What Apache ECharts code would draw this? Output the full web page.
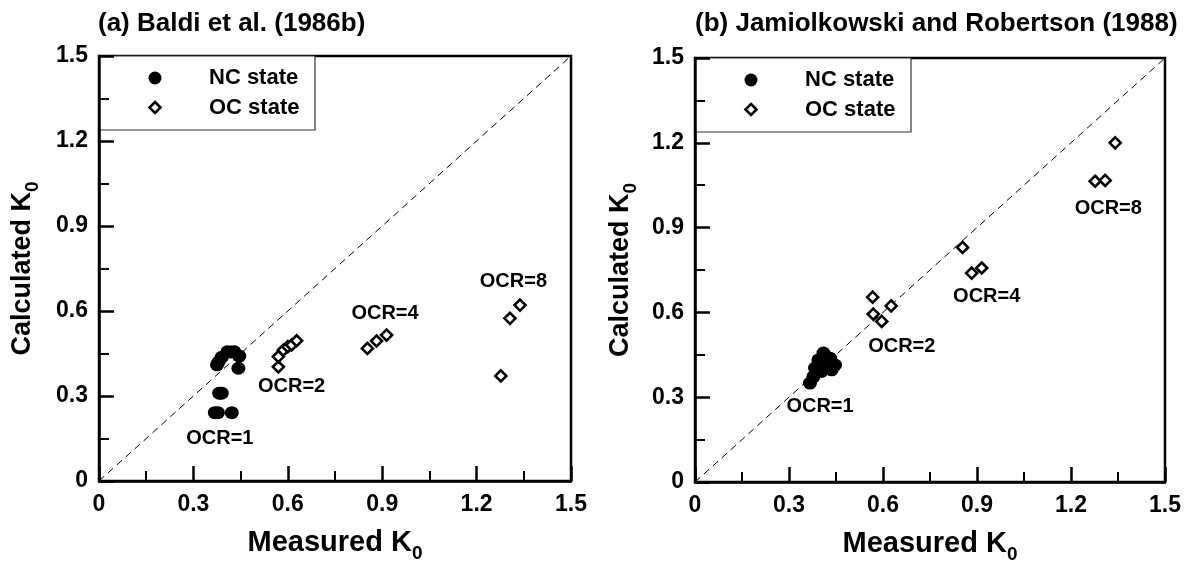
<!DOCTYPE html>
<html>
<head>
<meta charset="utf-8">
<script src="https://cdn.jsdelivr.net/npm/echarts@6/dist/echarts.min.js"></script>
<style>
  html, body { margin: 0; padding: 0; background: #fff; }
  #chart { width: 1192px; height: 563px; }
</style>
</head>
<body>
<div id="chart"></div>
<script>
// ---- data: [measured K0, calculated K0] ----
const AXIS_MIN = 0;
const AXIS_MAX = 1.5;
const AXIS_STEP = 0.3;
const DIAGONAL = [0, 1.5];

const TITLE_A = '(a) Baldi et al. (1986b)';
const TITLE_B = '(b) Jamiolkowski and Robertson (1988)';
const LEGEND_NAMES = ['NC state', 'OC state'];

// (a) Baldi et al. (1986b)
const NC_A = [
  [0.375, 0.41], [0.38, 0.42], [0.39, 0.437], [0.408, 0.456], [0.42, 0.455],
  [0.43, 0.456], [0.446, 0.441], [0.443, 0.398], [0.382, 0.31], [0.39, 0.31],
  [0.368, 0.241], [0.378, 0.241], [0.422, 0.241]
];
const OC_A = [
  [0.570, 0.403], [0.570, 0.439], [0.586, 0.462], [0.600, 0.474], [0.612, 0.480], [0.628, 0.495],
  [0.853, 0.468], [0.882, 0.494], [0.914, 0.515],
  [1.306, 0.574], [1.338, 0.621], [1.277, 0.371]
];

// (b) Jamiolkowski and Robertson (1988)
const NC_B = [
  [0.367, 0.35], [0.378, 0.373], [0.383, 0.403], [0.394, 0.432], [0.41, 0.456],
  [0.431, 0.438], [0.447, 0.414], [0.436, 0.397], [0.404, 0.391], [0.42, 0.426]
];
const OC_B = [
  [0.567, 0.654], [0.626, 0.623], [0.569, 0.594], [0.596, 0.568],
  [0.854, 0.830], [0.883, 0.739], [0.915, 0.757],
  [1.341, 1.200], [1.277, 1.064], [1.309, 1.067]
];

// OCR group annotations, anchored in data coordinates
const OCR_TEXT = ['OCR=1', 'OCR=2', 'OCR=4', 'OCR=8'];
const OCR_AT_A = [[0.384, 0.151], [0.612, 0.333], [0.909, 0.592], [1.317, 0.704]];
const OCR_AT_B = [[0.399, 0.266], [0.66, 0.479], [0.931, 0.655], [1.319, 0.968]];

// ---- styling ----
const FONT = '"Liberation Sans", Arial, sans-serif';
const INK = '#000';

const chart = echarts.init(document.getElementById('chart'), null, { renderer: 'canvas' });

function nameRich(size) {
  return {
    a: { fontFamily: FONT, fontSize: size, fontWeight: 'bold', color: INK, verticalAlign: 'bottom', padding: [0, 0, 6, 0] },
    b: { fontFamily: FONT, fontSize: 19, fontWeight: 'bold', color: INK, verticalAlign: 'bottom' }
  };
}

const tickLabel = {
  fontFamily: FONT, fontSize: 23, fontWeight: 'bold', color: INK,
  formatter: v => (v === 0 ? '0' : v.toFixed(1))
};

function makeXAxis(gridIndex) {
  return {
    gridIndex, type: 'value', min: AXIS_MIN, max: AXIS_MAX, interval: AXIS_STEP,
    name: '{a|Measured K}{b|0}', nameLocation: 'middle', nameGap: 47,
    nameTextStyle: { rich: nameRich(29) },
    axisLine: { show: true, onZero: false, lineStyle: { color: INK, width: 2.5 } },
    axisTick: { show: true, inside: true, length: 15, lineStyle: { color: INK, width: 2.5 } },
    minorTick: { show: true, splitNumber: 2, length: 10, lineStyle: { color: INK, width: 2 } },
    splitLine: { show: false },
    axisLabel: Object.assign({ margin: 12 }, tickLabel)
  };
}

function makeYAxis(gridIndex, nameGap) {
  return {
    gridIndex, type: 'value', min: AXIS_MIN, max: AXIS_MAX, interval: AXIS_STEP,
    name: '{a|Calculated K}{b|0}', nameLocation: 'middle', nameGap,
    nameTextStyle: { rich: nameRich(27) },
    axisLine: { show: true, onZero: false, lineStyle: { color: INK, width: 2.5 } },
    axisTick: { show: true, inside: true, length: 15, lineStyle: { color: INK, width: 2.5 } },
    minorTick: { show: true, splitNumber: 2, length: 10, lineStyle: { color: INK, width: 2 } },
    splitLine: { show: false },
    axisLabel: Object.assign({ margin: 11 }, tickLabel)
  };
}

function panelSeries(idx, nc, oc, ocrAt) {
  return [
    {
      type: 'line', xAxisIndex: idx, yAxisIndex: idx, silent: true, z: 1,
      data: [[DIAGONAL[0], DIAGONAL[0]], [DIAGONAL[1], DIAGONAL[1]]],
      symbol: 'none', lineStyle: { color: INK, width: 1, type: [7, 5] }
    },
    {
      name: LEGEND_NAMES[0], type: 'scatter', xAxisIndex: idx, yAxisIndex: idx, z: 3,
      data: nc, symbol: 'circle', symbolSize: [14, 13],
      itemStyle: { color: INK, opacity: 1 }
    },
    {
      name: LEGEND_NAMES[1], type: 'scatter', xAxisIndex: idx, yAxisIndex: idx, z: 4,
      data: oc, symbol: 'diamond', symbolSize: 11,
      itemStyle: { color: '#fff', borderColor: INK, borderWidth: 2.6, opacity: 1 }
    },
    {
      type: 'scatter', xAxisIndex: idx, yAxisIndex: idx, silent: true, z: 5,
      data: ocrAt.map((p, i) => ({ value: p, name: OCR_TEXT[i] })),
      symbolSize: 0,
      itemStyle: { color: INK, opacity: 1 },
      label: {
        show: true, position: 'inside', formatter: '{b}',
        fontFamily: FONT, fontSize: 20, fontWeight: 'bold', color: INK,
        textBorderWidth: 0, opacity: 1
      }
    }
  ];
}

// boxed key in the upper-left corner of each panel
function legendBox(x, y) {
  const keyFont = 'bold 22px "Liberation Sans", Arial, sans-serif';
  return {
    type: 'group', x, y, z: 10,
    children: [
      { type: 'rect', shape: { x: 0, y: 0, width: 216, height: 74 },
        style: { fill: '#fff', stroke: '#333', lineWidth: 1.2 } },
      { type: 'circle', shape: { cx: 56, cy: 22, r: 6.5 }, style: { fill: INK } },
      { type: 'polygon', shape: { points: [[56, 46], [61.5, 51.5], [56, 57], [50.5, 51.5]] },
        style: { fill: '#fff', stroke: INK, lineWidth: 2.6 } },
      { type: 'text', x: 110, y: 22,
        style: { text: LEGEND_NAMES[0], font: keyFont, fill: INK, align: 'left', verticalAlign: 'middle' } },
      { type: 'text', x: 110, y: 52,
        style: { text: LEGEND_NAMES[1], font: keyFont, fill: INK, align: 'left', verticalAlign: 'middle' } }
    ]
  };
}

const titleStyle = { fontFamily: FONT, fontSize: 26, fontWeight: 'bold', color: INK };

const gridBase = {
  show: true, borderColor: INK, borderWidth: 2.5, backgroundColor: 'transparent',
  containLabel: false, outerBoundsMode: 'none'
};

const option = {
  backgroundColor: '#fff',
  animation: false,
  title: [
    { text: TITLE_A, left: 93, top: 6, textStyle: titleStyle },
    { text: TITLE_B, left: 690, top: 6, textStyle: titleStyle }
  ],
  grid: [
    Object.assign({ left: 99, top: 56, width: 472, height: 425 }, gridBase),
    Object.assign({ left: 695, top: 58, width: 470, height: 424 }, gridBase)
  ],
  xAxis: [makeXAxis(0), makeXAxis(1)],
  yAxis: [makeYAxis(0, 57), makeYAxis(1, 55)],
  series: [
    ...panelSeries(0, NC_A, OC_A, OCR_AT_A),
    ...panelSeries(1, NC_B, OC_B, OCR_AT_B)
  ],
  graphic: [legendBox(99, 56), legendBox(695, 58)]
};

chart.setOption(option);
</script>
</body>
</html>
